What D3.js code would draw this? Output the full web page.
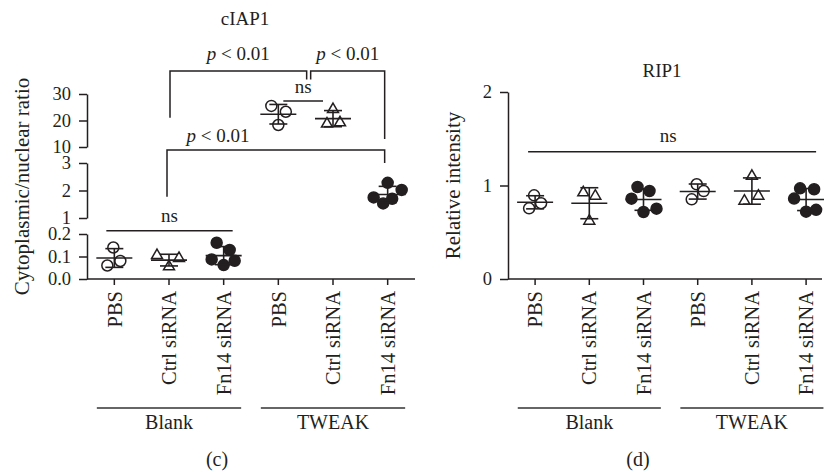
<!DOCTYPE html>
<html><head><meta charset="utf-8">
<script src="https://cdn.jsdelivr.net/npm/d3@7"></script>
<style>
body{margin:0;background:#fff}
svg text{font-family:"Liberation Serif","Times New Roman",serif;fill:#231f20}
</style>
</head><body>
<svg id="chart" width="824" height="472"></svg>
<script>
// ---------------- data ----------------
const categories = ["PBS","Ctrl siRNA","Fn14 siRNA","PBS","Ctrl siRNA","Fn14 siRNA"];
const groupNames = ["Blank","TWEAK"];
const markerTypes = ["circle","triangle","dot","circle","triangle","dot"];

// cIAP1: cytoplasmic/nuclear ratio
const ciap1BlankPBS  = [0.14, 0.06, 0.08];
const ciap1BlankCtrl = [0.105, 0.092, 0.055];
const ciap1BlankFn14 = [0.161, 0.129, 0.087, 0.081, 0.062];
const ciap1TweakPBS  = [25.5, 23.3, 18.3];
const ciap1TweakCtrl = [24.2, 18.7, 19.2];
const ciap1TweakFn14 = [2.28, 2.02, 1.75, 1.70, 1.53];

// RIP1: relative intensity
const rip1BlankPBS  = [0.895, 0.81, 0.756];
const rip1BlankCtrl = [0.923, 0.888, 0.62];
const rip1BlankFn14 = [0.984, 0.941, 0.859, 0.752, 0.717];
const rip1TweakPBS  = [1.013, 0.941, 0.852];
const rip1TweakCtrl = [1.10, 0.834, 0.888];
const rip1TweakFn14 = [0.97, 0.96, 0.86, 0.72, 0.74];

// tick values
const ciap1TicksLow = [0, 0.1, 0.2];
const ciap1TicksMid = [1, 2, 3];
const ciap1TicksTop = [10, 20, 30];
const rip1Ticks = [0, 1, 2];

// horizontal scatter of the dots (px)
const jitterCIAP1 = [[-1,-7,6],[-12,10,0],[-7,6,-12,11,0],[-7,7.5,0],[0,-6,7],[0,14,-14,4.5,-4.5]];
const jitterRIP1  = [[-1,6,-6],[-6,6,0],[-6,6,-12,13,0],[-1,6,-6],[0,-7.5,6.5],[-6,8,-12,0,10]];

const ciap1Series = [ciap1BlankPBS, ciap1BlankCtrl, ciap1BlankFn14, ciap1TweakPBS, ciap1TweakCtrl, ciap1TweakFn14];
const rip1Series  = [rip1BlankPBS, rip1BlankCtrl, rip1BlankFn14, rip1TweakPBS, rip1TweakCtrl, rip1TweakFn14];

// ---------------- drawing ----------------
const svg = d3.select("#chart");
const INK = "#231f20";
const FS = 19;

const idx = d3.range(categories.length);

// left panel scales
const xL = d3.scaleBand().domain(idx).range([87, 415]);
const cxL = i => xL(i) + xL.bandwidth()/2;
const segLow = d3.scaleLinear().domain([0, 0.2]).range([279, 234]);
const segMid = d3.scaleLinear().domain([1, 3]).range([218, 163]);
const segTop = d3.scaleLinear().domain([10, 30]).range([147, 94]);
const yL = v => v < 0.5 ? segLow(v) : (v < 6 ? segMid(v) : segTop(v));

// right panel scales
const xR = d3.scaleBand().domain(idx).range([508, 833.2]);
const cxR = i => xR(i) + xR.bandwidth()/2;
const yR = d3.scaleLinear().domain([0, 2]).range([279, 92]);

function styleAxis(g, fs){
  g.selectAll("path.domain").attr("stroke", INK).attr("stroke-width", 1.5);
  g.selectAll(".tick line").attr("stroke", INK).attr("stroke-width", 1.5);
  g.selectAll(".tick text").attr("font-size", fs || FS).attr("font-family", "Liberation Serif").attr("fill", INK);
}

function yAxis(scale, ticks, x, fmt){
  const ax = d3.axisLeft(scale).tickValues(ticks).tickSize(8).tickSizeOuter(0).tickPadding(8)
    .tickFormat(d3.format(fmt));
  const g = svg.append("g").attr("transform", `translate(${x},0)`).call(ax);
  styleAxis(g, 18.5);
}

function xAxis(band, y, lineStart, lineEnd){
  const ax = d3.axisBottom(band).tickSize(6).tickSizeOuter(0).tickFormat(i => categories[i]);
  const g = svg.append("g").attr("transform", `translate(0,${y})`).call(ax);
  g.select("path.domain").remove();
  styleAxis(g, 20.5);
  g.selectAll(".tick text")
    .attr("transform", "rotate(-90)")
    .attr("text-anchor", "end")
    .attr("x", -12).attr("y", 0).attr("dy", "0.35em");
  svg.append("line").attr("x1", lineStart).attr("x2", lineEnd).attr("y1", y).attr("y2", y)
    .attr("stroke", INK).attr("stroke-width", 1.5);
}

function groupLabels(cx, step, lineY, textY){
  groupNames.forEach((name, gi) => {
    const a = cx(gi*3) - step*0.32, b = cx(gi*3+2) + step*0.32;
    svg.append("line").attr("x1", a).attr("x2", b).attr("y1", lineY).attr("y2", lineY)
      .attr("stroke", "#333").attr("stroke-width", 1.6);
    svg.append("text").attr("x", (a+b)/2).attr("y", textY).attr("text-anchor", "middle")
      .attr("font-size", 20).text(name);
  });
}

function drawGroups(series, jit, cx, y){
  const gAll = svg.append("g");
  series.forEach((vals, i) => {
    const c = cx(i);
    const m = d3.mean(vals), sd = d3.deviation(vals);
    const g = gAll.append("g");
    vals.forEach((v, k) => {
      const px = c + jit[i][k], py = y(v);
      const t = markerTypes[i];
      if (t === "triangle") {
        g.append("path").attr("d", d3.symbol().type(d3.symbolTriangle).size(52)())
          .attr("transform", `translate(${px},${py})`)
          .attr("fill", "#fff").attr("stroke", INK).attr("stroke-width", 1.5);
      } else {
        g.append("circle").attr("cx", px).attr("cy", py).attr("r", 5.5)
          .attr("fill", t === "dot" ? INK : "#fff").attr("stroke", INK).attr("stroke-width", 1.5);
      }
    });
    const ln = (x1,y1,x2,y2) => g.append("line").attr("x1",x1).attr("y1",y1).attr("x2",x2).attr("y2",y2)
      .attr("stroke", INK).attr("stroke-width", 1.6);
    ln(c-18, y(m), c+18, y(m));
    ln(c, y(m+sd), c, y(m-sd));
    ln(c-9, y(m+sd), c+9, y(m+sd));
    ln(c-9, y(m-sd), c+9, y(m-sd));
  });
}

function pathLine(pts){
  svg.append("path").attr("d", d3.line()(pts)).attr("fill", "none")
    .attr("stroke", INK).attr("stroke-width", 1.5);
}
function pText(x, y){
  const t = svg.append("text").attr("x", x).attr("y", y).attr("text-anchor", "middle").attr("font-size", FS);
  t.append("tspan").attr("font-style", "italic").text("p");
  t.append("tspan").text(" < 0.01");
}
function nsText(x, y){
  svg.append("text").attr("x", x).attr("y", y).attr("text-anchor", "middle").attr("font-size", FS).text("ns");
}

// ===== Left panel (c) cIAP1 =====
yAxis(segLow, ciap1TicksLow, 87, ".1f");
yAxis(segMid, ciap1TicksMid, 87, "d");
yAxis(segTop, ciap1TicksTop, 87, "d");
xAxis(xL, 279, 87, 415);
drawGroups(ciap1Series, jitterCIAP1, cxL, yL);

svg.append("text").attr("x", 245).attr("y", 25).attr("text-anchor", "middle").attr("font-size", FS).text("cIAP1");
svg.append("text").attr("transform", `translate(29,${(segLow(0)+segTop(30))/2}) rotate(-90)`)
  .attr("text-anchor", "middle").attr("font-size", 21).text("Cytoplasmic/nuclear ratio");

// ns over Blank groups
{
  const y = segLow(0.215), a = cxL(0)-8, b = cxL(2)+9;
  pathLine([[a,y],[b,y]]);
  nsText((a+b)/2, y-9);
}
// lower p bracket: Blank Ctrl siRNA -> TWEAK Fn14 siRNA
{
  const y = segTop(8.9), a = cxL(1)-2, b = cxL(5)-3;
  pathLine([[a, segMid(1.77)],[a,y],[b,y],[b, segMid(3)]]);
  pText(a+51, y-8);
}
// top brackets
const mid34 = (cxL(3)+cxL(4))/2;
{
  const y = segTop(38.7), a = cxL(1)+1, b = mid34+1;
  pathLine([[a, segTop(21)],[a,y],[b,y],[b, segTop(35.5)]]);
  pText((a+b)/2, y-11);
}
{
  const y = segTop(38.7), a = mid34+5, b = cxL(5)-3;
  pathLine([[a, segTop(35.5)],[a,y],[b,y],[b, segTop(13)]]);
  pText((a+b)/2, y-11);
}
// ns between TWEAK PBS and Ctrl siRNA
{
  const y = segTop(27.4), a = cxL(3)+5, b = cxL(4)-10;
  pathLine([[a,y],[b,y]]);
  nsText((a+b)/2, y-8);
}
groupLabels(cxL, xL.step(), 408, 429);
svg.append("text").attr("x", 217).attr("y", 466).attr("text-anchor", "middle").attr("font-size", 20).text("(c)");

// ===== Right panel (d) RIP1 =====
yAxis(yR, rip1Ticks, 508, "d");
xAxis(xR, 279, 508, 822);
drawGroups(rip1Series, jitterRIP1, cxR, yR);
svg.append("text").attr("x", 662).attr("y", 77).attr("text-anchor", "middle").attr("font-size", FS).text("RIP1");
svg.append("text").attr("transform", `translate(460,${(yR(0)+yR(2))/2}) rotate(-90)`)
  .attr("text-anchor", "middle").attr("font-size", 21).text("Relative intensity");
{
  const y = yR(1.36), a = cxR(0)-7, b = cxR(5)+10;
  pathLine([[a,y],[b,y]]);
  nsText((a+b)/2 - 4, y-10);
}
groupLabels(cxR, xR.step(), 408, 429);
svg.append("text").attr("x", 638).attr("y", 466).attr("text-anchor", "middle").attr("font-size", 20).text("(d)");
</script>
</body></html>
